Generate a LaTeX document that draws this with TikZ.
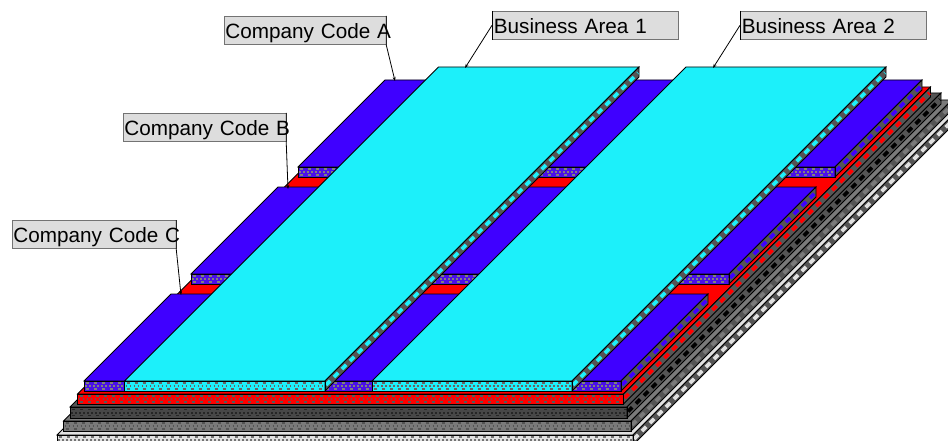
\documentclass[tikz,border=0pt]{standalone}
\usepackage{fontspec}
\setmainfont{Liberation Sans}
\usetikzlibrary{arrows.meta}

\definecolor{bluetop}{HTML}{3F00FF}
\definecolor{bluefront}{HTML}{4A10E8}
\definecolor{cyantop}{HTML}{1CF0FA}
\definecolor{dottop}{HTML}{555555}
\definecolor{midtop}{HTML}{7A7A7A}
\definecolor{paletop}{HTML}{E0E0E0}
\definecolor{boxgray}{HTML}{DDDDDD}

% xl, xr, y of front edge, depth, height, top, front, rings, blobs on the side
\newcommand{\slab}[9]{
  \draw[edge,fill=#6] (#1,#3) -- (#2,#3) -- ({#2+#4},{#3-#4}) -- ({#1+#4},{#3-#4}) -- cycle;
  \draw[edge,fill=#7] (#1,#3) rectangle (#2,{#3+#5});
  \begin{scope}
    \clip (#1,#3) rectangle (#2,{#3+#5});
    \draw[#8,line width=1.5pt,dash pattern=on 3pt off 5pt] (#1+2,{#3+#5/2-3}) -- (#2,{#3+#5/2-3});
    \draw[#8,line width=1.5pt,dash pattern=on 3pt off 5pt] (#1+2,{#3+#5/2+3}) -- (#2,{#3+#5/2+3});
    \draw[#8,line width=2pt,dash pattern=on 1.5pt off 2.5pt] (#1+1,{#3+#5/2}) -- (#2,{#3+#5/2});
  \end{scope}
  \draw[edge,fill=dottop] (#2,#3) -- ({#2+#4},{#3-#4}) -- ({#2+#4},{#3-#4+#5}) -- (#2,{#3+#5}) -- cycle;
  \draw[#9,line width=3.6pt,dash pattern=on 6pt off 5.3pt] (#2+1,{#3+#5/2-1}) -- ({#2+#4-1},{#3-#4+#5/2+1});
  \draw[edge] (#1,#3) rectangle (#2,{#3+#5});
}

\begin{document}
\begin{tikzpicture}[x=1pt,y=-1pt]
\tikzset{edge/.style={line width=0.8pt}}
\tikzset{namebox/.style={draw=black!55,line width=0.7pt,fill=boxgray,anchor=north west,inner xsep=1.5pt,inner ysep=0pt,
    minimum height=28pt,text height=20pt,text depth=4pt,font=\fontsize{20.7}{21}\selectfont}}
\tikzset{callout/.style={line width=0.8pt,-{Stealth[length=4pt,width=3pt]}}}

\useasboundingbox (0,0) rectangle (948,441);
\clip (0,0) rectangle (948,441);

% the layers, bottom one first
\slab{57}{633}{435}{328}{10}{paletop}{paletop}{black!55}{paletop}
\slab{63.5}{631}{421}{321}{10}{midtop}{midtop}{dottop}{midtop}
\slab{70}{627}{407}{314}{11}{dottop}{black!72}{black!85}{black}
\slab{77.5}{623.5}{394}{307}{10}{red}{red}{black!65}{red}

% company codes
\foreach \xl/\xr/\yf in {298/835/167,191/729/274,84/621/381}
{
  \slab{\xl}{\xr}{\yf}{87}{10}{bluetop}{bluefront}{gray}{bluetop}
}

% business areas
\foreach \xl/\xr in {124.5/325,372/572}
{
  \slab{\xl}{\xr}{381}{314}{10}{cyantop}{cyantop}{black!60}{cyantop}
}

\node[namebox,text width=159pt] (codeA) at (223.5,16) {\mbox{Company Code A}};
\node[namebox,text width=160pt] (codeB) at (122.5,113) {\mbox{Company Code B}};
\node[namebox,text width=161pt] (codeC) at (11.5,220) {\mbox{Company Code C}};
\node[namebox,text width=183pt] (areaA) at (492,11) {\mbox{Business Area 1}};
\node[namebox,text width=183pt] (areaB) at (740,11) {\mbox{Business Area 2}};

\coordinate (tipA) at (395,81);
\coordinate (tipB) at (288,189);
\coordinate (tipC) at (181,295);
\coordinate (tipD) at (465,68);
\coordinate (tipE) at (713,68);

\draw[callout] (codeA.north east) -- (codeA.south east) -- (tipA);
\draw[callout] (codeB.north east) -- (codeB.south east) -- (tipB);
\draw[callout] (codeC.north east) -- (codeC.south east) -- (tipC);
\draw[edge] (areaA.north west) -- (areaA.south west);
\draw[edge] (areaB.north west) -- (areaB.south west);
\draw[callout] (areaA.west) -- (tipD);
\draw[callout] (areaB.west) -- (tipE);

\end{tikzpicture}
\end{document}
